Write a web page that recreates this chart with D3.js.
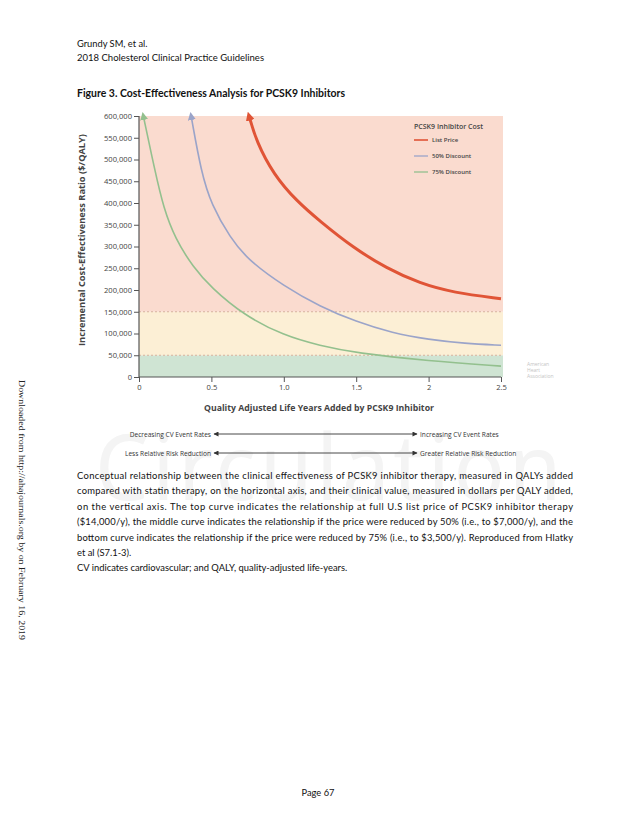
<!DOCTYPE html>
<html>
<head>
<meta charset="utf-8">
<script src="https://cdn.jsdelivr.net/npm/d3@7"></script>
<style>
  body { margin: 0; background: #fff; }
  svg { display: block; }
</style>
</head>
<body>
<div id="chart"></div>
<script>
// QALYs added (x) and ICER in $/QALY (y)
const listQaly = [0.76, 0.81, 0.93, 1.09, 1.25, 1.48, 1.71, 1.94, 2.17, 2.5];
const listIcer = [600000, 542000, 465000, 404000, 358000, 297000, 250000, 215000, 194000, 180000];
const halfQaly = [0.36, 0.43, 0.5, 0.63, 0.75, 1.0, 1.25, 1.5, 1.75, 2.0, 2.25, 2.5];
const halfIcer = [600000, 470000, 396000, 320000, 270000, 209000, 162000, 127000, 101000, 86000, 77000, 73000];
const quarterQaly = [0.03, 0.11, 0.17, 0.25, 0.375, 0.5, 0.72, 1.0, 1.25, 1.5, 2.0, 2.5];
const quarterIcer = [600000, 474000, 388000, 318000, 252000, 205000, 143000, 95000, 72000, 55000, 37000, 25000];

const bands = [0, 50000, 150000, 600000];
const bandColors = ["#cfe4d3", "#fcefd5", "#fadbcf"];
const yTicks = d3.range(0, 600001, 50000);
const xTicks = [0, 0.5, 1.0, 1.5, 2, 2.5];
const xTickLabels = ["0", "0.5", "1.0", "1.5", "2", "2.5"];

const seriesNames = ["List Price", "50% Discount", "75% Discount"];
const seriesColors = ["#e05436", "#9ba4c9", "#93c08e"];

const paragraph = [
  "Conceptual relationship between the clinical effectiveness of PCSK9 inhibitor therapy, measured in QALYs added",
  "compared with statin therapy, on the horizontal axis, and their clinical value, measured in dollars per QALY added,",
  "on the vertical axis. The top curve indicates the relationship at full U.S list price of PCSK9 inhibitor therapy",
  "($14,000/y), the middle curve indicates the relationship if the price were reduced by 50% (i.e., to $7,000/y), and the",
  "bottom curve indicates the relationship if the price were reduced by 75% (i.e., to $3,500/y). Reproduced from Hlatky",
  "et al (S7.1-3).",
  "CV indicates cardiovascular; and QALY, quality-adjusted life-years."
];

const W = 638, H = 826;
const svg = d3.select("#chart").append("svg").attr("width", W).attr("height", H);
svg.append("rect").attr("width", W).attr("height", H).attr("fill", "#fff");

const bodyFont = "Lato, 'Open Sans', sans-serif";
const chartFont = "'Open Sans', 'Noto Sans', sans-serif";

// faint journal watermark
svg.append("text")
  .attr("x", 330).attr("y", 500)
  .attr("text-anchor", "middle")
  .attr("font-family", "'Noto Sans', sans-serif")
  .attr("font-size", 92)
  .attr("letter-spacing", 4)
  .attr("fill", "#f4f4f4")
  .attr("textLength", 470).attr("lengthAdjust", "spacingAndGlyphs")
  .text("Circulation");

// header
svg.append("text").attr("x", 77).attr("y", 47)
  .attr("font-family", bodyFont).attr("font-size", 9.3).attr("fill", "#111")
  .text("Grundy SM, et al.");
svg.append("text").attr("x", 77).attr("y", 61)
  .attr("font-family", bodyFont).attr("font-size", 9.3).attr("fill", "#111")
  .attr("textLength", 187).attr("lengthAdjust", "spacingAndGlyphs")
  .text("2018 Cholesterol Clinical Practice Guidelines");
svg.append("text").attr("x", 77).attr("y", 97)
  .attr("font-family", bodyFont).attr("font-size", 11).attr("font-weight", "bold").attr("fill", "#111")
  .attr("textLength", 268).attr("lengthAdjust", "spacingAndGlyphs")
  .text("Figure 3. Cost-Effectiveness Analysis for PCSK9 Inhibitors");

const x = d3.scaleLinear().domain([0, 2.5]).range([139, 501]);
const y = d3.scaleLinear().domain([0, 600000]).range([377, 116]);

// background bands
svg.selectAll("rect.band")
  .data(d3.range(bandColors.length))
  .enter()
  .append("rect")
  .attr("class", "band")
  .attr("x", x(0))
  .attr("y", i => y(bands[i + 1]))
  .attr("width", x(2.5) - x(0) + 2)
  .attr("height", i => y(bands[i]) - y(bands[i + 1]))
  .attr("fill", i => bandColors[i]);

// dashed thresholds
svg.selectAll("line.thr")
  .data([50000, 150000])
  .enter()
  .append("line")
  .attr("x1", x(0)).attr("x2", x(2.5) + 2)
  .attr("y1", d => y(d)).attr("y2", d => y(d))
  .attr("stroke", "#d6b29c")
  .attr("stroke-width", 1)
  .attr("stroke-dasharray", "2,2");

// arrow markers
const defs = svg.append("defs");
seriesColors.forEach(function(c, i) {
  defs.append("marker")
    .attr("id", "arr" + i)
    .attr("viewBox", "0 0 10 10")
    .attr("refX", 5).attr("refY", 5)
    .attr("markerWidth", i === 0 ? 3 : 5)
    .attr("markerHeight", i === 0 ? 3 : 5)
    .attr("markerUnits", "strokeWidth")
    .attr("orient", "auto-start-reverse")
    .append("path")
    .attr("d", "M0,0 L10,5 L0,10 z")
    .attr("fill", c);
});

const line = d3.line()
  .x(d => x(d[0]))
  .y(d => y(d[1]))
  .curve(d3.curveBasis);

const series = [
  d3.zip(listQaly, listIcer),
  d3.zip(halfQaly, halfIcer),
  d3.zip(quarterQaly, quarterIcer)
];

svg.selectAll("path.curve")
  .data(series)
  .enter()
  .append("path")
  .attr("class", "curve")
  .attr("d", line)
  .attr("fill", "none")
  .attr("stroke", (d, i) => seriesColors[i])
  .attr("stroke-width", (d, i) => (i === 0 ? 3 : 1.6))
  .attr("marker-start", (d, i) => "url(#arr" + i + ")");

// axes
const yAxis = svg.append("g")
  .attr("transform", "translate(" + x(0) + ",0)")
  .call(d3.axisLeft(y).tickValues(yTicks).tickSize(5).tickPadding(2).tickFormat(d3.format(",")));
const xAxis = svg.append("g")
  .attr("transform", "translate(0," + y(0) + ")")
  .call(d3.axisBottom(x).tickValues(xTicks).tickSize(5).tickPadding(3)
    .tickFormat((d, i) => xTickLabels[i]));
[yAxis, xAxis].forEach(function(g) {
  g.select(".domain").attr("stroke", "#555").attr("stroke-width", 1.2);
  g.selectAll(".tick line").attr("stroke", "#555").attr("stroke-width", 1);
  g.selectAll(".tick text")
    .attr("font-family", chartFont)
    .attr("font-size", 7.6)
    .attr("fill", "#444");
});
yAxis.select(".domain").attr("d", "M0," + y(600000) + "V" + y(0));
xAxis.select(".domain").attr("d", "M" + x(0) + ",0H" + x(2.5));

// axis titles
svg.append("text")
  .attr("transform", "translate(85,240) rotate(-90)")
  .attr("text-anchor", "middle")
  .attr("font-family", chartFont)
  .attr("font-size", 9.5)
  .attr("font-weight", "bold")
  .attr("fill", "#444")
  .attr("textLength", 212).attr("lengthAdjust", "spacingAndGlyphs")
  .text("Incremental Cost-Effectiveness Ratio ($/QALY)");
svg.append("text")
  .attr("x", 319).attr("y", 411)
  .attr("text-anchor", "middle")
  .attr("font-family", chartFont)
  .attr("font-size", 9.5)
  .attr("font-weight", "bold")
  .attr("fill", "#444")
  .attr("textLength", 230).attr("lengthAdjust", "spacingAndGlyphs")
  .text("Quality Adjusted Life Years Added by PCSK9 Inhibitor");

// legend
const legend = svg.append("g").attr("font-family", chartFont).attr("fill", "#444");
legend.append("text").attr("x", 414).attr("y", 129)
  .attr("font-size", 7).attr("font-weight", "600")
  .text("PCSK9 Inhibitor Cost");
seriesNames.forEach(function(name, i) {
  const ly = 140 + i * 16;
  legend.append("line")
    .attr("x1", 414).attr("x2", 428)
    .attr("y1", ly).attr("y2", ly)
    .attr("stroke", seriesColors[i]).attr("stroke-width", i === 0 ? 1.6 : 1.3);
  legend.append("text").attr("x", 432).attr("y", ly + 2.3)
    .attr("font-size", 6).attr("font-weight", "600")
    .text(name);
});

// AHA mark
["American", "Heart", "Association"].forEach(function(t, i) {
  svg.append("text").attr("x", 527).attr("y", 366 + i * 6)
    .attr("font-family", chartFont).attr("font-size", 5).attr("fill", "#c4c4c4")
    .text(t);
});

// double arrows under the chart
defs.append("marker")
  .attr("id", "tri")
  .attr("viewBox", "0 0 10 10")
  .attr("refX", 9).attr("refY", 5)
  .attr("markerWidth", 7).attr("markerHeight", 5)
  .attr("markerUnits", "userSpaceOnUse")
  .attr("orient", "auto-start-reverse")
  .append("path")
  .attr("d", "M0,0 L10,5 L0,10 z")
  .attr("fill", "#333");

const arrowRows = [
  ["Decreasing CV Event Rates", "Increasing CV Event Rates", 434],
  ["Less Relative Risk Reduction", "Greater Relative Risk Reduction", 453]
];
arrowRows.forEach(function(r) {
  svg.append("text").attr("x", 211).attr("y", r[2] + 2.5)
    .attr("text-anchor", "end")
    .attr("font-family", chartFont).attr("font-size", 6.6).attr("fill", "#333")
    .text(r[0]);
  svg.append("line")
    .attr("x1", 214).attr("x2", 417)
    .attr("y1", r[2]).attr("y2", r[2])
    .attr("stroke", "#333").attr("stroke-width", 0.9)
    .attr("marker-start", "url(#tri)")
    .attr("marker-end", "url(#tri)");
  svg.append("text").attr("x", 420).attr("y", r[2] + 2.5)
    .attr("font-family", chartFont).attr("font-size", 6.6).attr("fill", "#333")
    .text(r[1]);
});

// caption paragraph
const para = svg.append("g").attr("font-family", bodyFont).attr("font-size", 9.4).attr("fill", "#111");
paragraph.forEach(function(t, i) {
  const tx = para.append("text").attr("x", 77).attr("y", 479 + i * 15.4).text(t);
  if (i < 5) tx.attr("textLength", 496).attr("lengthAdjust", "spacing");
});

// side stamp
svg.append("text")
  .attr("transform", "translate(19,380) rotate(90)")
  .attr("font-family", "'Liberation Serif', serif")
  .attr("font-size", 8.2)
  .attr("fill", "#222")
  .attr("textLength", 260).attr("lengthAdjust", "spacingAndGlyphs")
  .text("Downloaded from http://ahajournals.org by on February 16, 2019");

// page number
svg.append("text").attr("x", 318).attr("y", 796)
  .attr("text-anchor", "middle")
  .attr("font-family", bodyFont).attr("font-size", 9.3).attr("fill", "#111")
  .text("Page 67");
</script>
</body>
</html>
